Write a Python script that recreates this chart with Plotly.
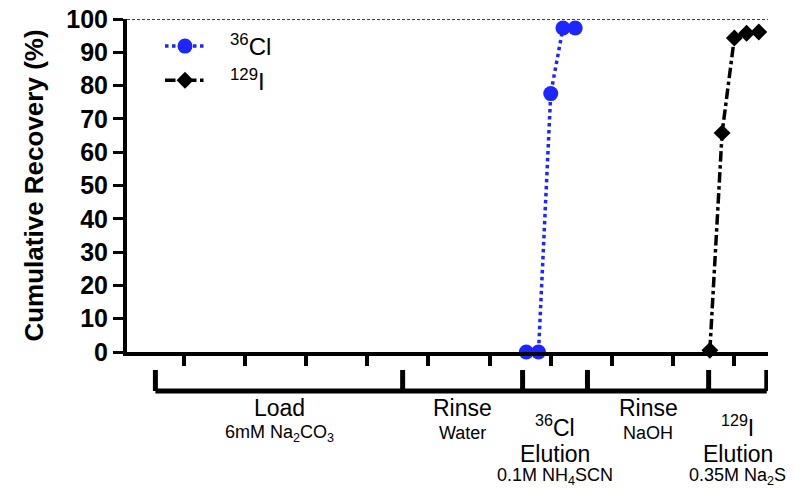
import plotly.graph_objects as go

# ---- data ----
cl_x = [33, 34, 35, 36, 37]
cl_y = [0, 0, 77.6, 97.3, 97.3]
i_x = [48, 49, 50, 51, 52]
i_y = [0.5, 65.8, 94.3, 95.7, 96.1]

y_ticks = [0, 10, 20, 30, 40, 50, 60, 70, 80, 90, 100]
x_ticks = [5, 10, 15, 20, 25, 30, 35, 40, 45, 50]

bracket_edges = [2.7, 22.9, 32.7, 38.0, 47.9, 52.65]
step_titles = ["Load", "Rinse", "<sup>36</sup>Cl<br>Elution", "Rinse", "<sup>129</sup>I<br>Elution"]
step_reagents = ["6mM Na<sub>2</sub>CO<sub>3</sub>", "Water", "0.1M NH<sub>4</sub>SCN", "NaOH", "0.35M Na<sub>2</sub>S"]

FONT = "Liberation Sans, Arial, sans-serif"
BLUE = "rgb(30,38,255)"

# layout geometry (pixels)
W, H = 795, 489
ML, MR, MT, MB = 127, 27, 19, 137
PH = H - MT - MB
PW = W - ML - MR


def py(pix):
    """pixel row -> paper y"""
    return (H - MB - pix) / PH


def px(pix):
    return (pix - ML) / PW


fig = go.Figure()
fig.add_trace(go.Scatter(
    x=cl_x, y=cl_y, mode="lines+markers", name="&nbsp;&nbsp;&nbsp;<sup>36</sup>Cl",
    line=dict(color=BLUE, width=3.5, dash="dot"),
    marker=dict(color=BLUE, size=15, symbol="circle"),
    cliponaxis=False, legendgroup="a"))
fig.add_trace(go.Scatter(
    x=i_x, y=i_y, mode="lines+markers", name="&nbsp;&nbsp;&nbsp;<sup>129</sup>I",
    line=dict(color="black", width=3.5, dash="dashdot"),
    marker=dict(color="black", size=13, symbol="diamond"),
    cliponaxis=False, legendgroup="b"))

shapes = []
# dashed 100% reference line
shapes.append(dict(type="line", xref="paper", yref="y", x0=0, x1=1, y0=100, y1=100,
                   line=dict(color="black", width=1.5, dash="3px,2px")))
# bracket axis below the main axis
yb = py(391)
yt = py(370)
shapes.append(dict(type="line", xref="x", yref="paper", x0=bracket_edges[0], x1=bracket_edges[-1],
                   y0=yb, y1=yb, line=dict(color="black", width=5)))
for e in bracket_edges:
    shapes.append(dict(type="line", xref="x", yref="paper", x0=e, x1=e, y0=yb, y1=yt,
                       line=dict(color="black", width=5)))

BIG, SMALL = 23, 18
annotations = []
for k in range(len(step_titles)):
    cx = (bracket_edges[k] + bracket_edges[k + 1]) / 2
    t = step_titles[k]
    if "<br>" in t:
        a, b = t.split("<br>")
        rows = [(a, 426, BIG), (b, 454, BIG), (step_reagents[k], 477, SMALL)]
    else:
        rows = [(t, 408, BIG), (step_reagents[k], 433, SMALL)]
    for txt, ypix, sz in rows:
        annotations.append(dict(x=cx, y=py(ypix), xref="x", yref="paper", text=txt, showarrow=False,
                                font=dict(family=FONT, size=sz, color="black"), yanchor="middle"))

fig.update_layout(
    width=W, height=H,
    margin=dict(l=ML, r=MR, t=MT, b=MB),
    paper_bgcolor="white", plot_bgcolor="white",
    font=dict(family=FONT, color="black"),
    showlegend=True,
    legend=dict(x=px(160), y=py(24), xanchor="left", yanchor="top",
                font=dict(family=FONT, size=24, color="black"),
                bgcolor="rgba(0,0,0,0)", tracegroupgap=0, itemwidth=40),
    xaxis=dict(range=[0.38, 52.75], showgrid=False, zeroline=False, automargin=False,
               showline=True, linecolor="black", linewidth=4,
               tickmode="array", tickvals=x_ticks, showticklabels=False,
               ticks="outside", ticklen=10, tickwidth=4, tickcolor="black"),
    yaxis=dict(range=[0, 100], showgrid=False, zeroline=False, automargin=False,
               showline=True, linecolor="black", linewidth=4,
               tickmode="array", tickvals=y_ticks,
               ticks="outside", ticklen=10, tickwidth=3, tickcolor="black",
               tickfont=dict(family=FONT, size=25, color="black", weight="bold"),
               title=dict(text="<b>Cumulative Recovery (%)</b>", standoff=16,
                          font=dict(family=FONT, size=26, color="black"))),
    shapes=shapes,
    annotations=annotations,
)

fig.write_html("out.html")
